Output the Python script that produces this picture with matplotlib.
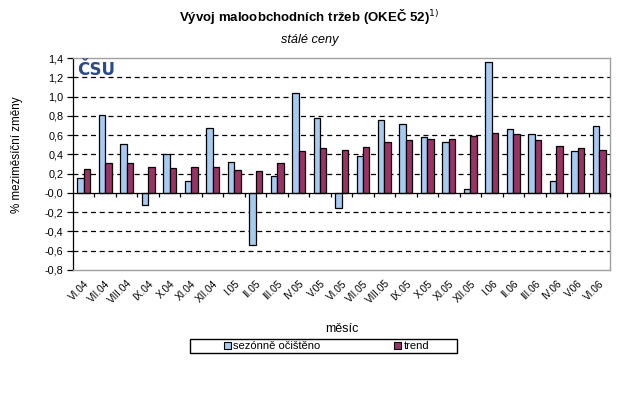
import numpy as np
import matplotlib
matplotlib.use('Agg')
import matplotlib.pyplot as plt
from matplotlib.patches import Rectangle, Patch
from matplotlib.ticker import FuncFormatter

plt.rcParams['font.family'] = ['Liberation Sans', 'DejaVu Sans']

months = ['VI.04', 'VII.04', 'VIII.04', 'IX.04', 'X.04', 'XI.04', 'XII.04',
          'I.05', 'II.05', 'III.05', 'IV.05', 'V.05', 'VI.05', 'VII.05',
          'VIII.05', 'IX.05', 'X.05', 'XI.05', 'XII.05',
          'I.06', 'II.06', 'III.06', 'IV.06', 'V.06', 'VI.06']
seasonal = [0.15, 0.81, 0.51, -0.13, 0.40, 0.12, 0.67,
            0.32, -0.54, 0.18, 1.04, 0.78, -0.16, 0.38,
            0.76, 0.72, 0.58, 0.53, 0.04,
            1.36, 0.66, 0.61, 0.12, 0.44, 0.69]
trend = [0.25, 0.31, 0.31, 0.27, 0.26, 0.27, 0.27,
         0.24, 0.23, 0.31, 0.44, 0.47, 0.45, 0.48,
         0.53, 0.55, 0.56, 0.56, 0.59,
         0.62, 0.61, 0.55, 0.49, 0.47, 0.45]

W, H = 619, 394
fig = plt.figure(figsize=(W / 100, H / 100), dpi=100)
ax = fig.add_axes([73 / W, 1 - 270 / H, (610 - 73) / W, (270 - 58) / H])

x = np.arange(len(months))
bw = 0.3
c_blue = '#A6CAF0'
c_trend = '#993366'
ax.bar(x - bw / 2, seasonal, bw, color=c_blue, edgecolor='black', linewidth=0.9, zorder=3)
ax.bar(x + bw / 2, trend, bw, color=c_trend, edgecolor='black', linewidth=0.9, zorder=3)

ax.set_xlim(-0.5, len(months) - 0.5)
ax.set_ylim(-0.8, 1.4)
yt = np.round(np.arange(-0.8, 1.41, 0.2), 1)
ax.set_yticks(yt)
ax.yaxis.set_major_formatter(FuncFormatter(lambda v, p: f'{v:.1f}'.replace('.', ',')))
for v in yt:
    if -0.8 < v < 1.4 and abs(v) > 1e-9:
        ax.axhline(v, color='black', lw=0.9, ls=(0, (4, 3)), zorder=1)
ax.axhline(0, color='black', lw=0.9, zorder=4)
# category tick marks on the zero line
ax.vlines(x[:-1] + 0.5, -0.045, 0, color='black', lw=0.9, zorder=4)
ax.vlines([len(months) - 0.5], -0.045, 0, color='black', lw=0.9, zorder=4, clip_on=False)

ax.set_xticks(x)
ax.set_xticklabels(months, rotation=45, ha='right', rotation_mode='anchor', fontsize=7.3)
ax.tick_params(axis='x', length=0, pad=6)
ax.tick_params(axis='y', labelsize=7.8, length=4, width=0.9, direction='out', pad=3)

for s in ['top', 'right', 'bottom']:
    ax.spines[s].set_color('#A0A0A0')
    ax.spines[s].set_linewidth(1)
ax.spines['left'].set_color('black')
ax.spines['left'].set_linewidth(0.9)

ax.set_xlabel('měsíc', fontsize=9, labelpad=12)

fig.text(17.5 / W, 1 - 155 / H, '% meziměsíční změny', rotation=90,
         ha='center', va='center', fontsize=8.4)
fig.text(0.5, 1 - 16 / H, 'Vývoj maloobchodních tržeb (OKEČ 52)$^{1)}$',
         ha='center', va='center', fontsize=9.5, fontweight='bold')
fig.text(0.5, 1 - 40 / H, 'stálé ceny', ha='center', va='center',
         fontsize=9.2, style='italic')

# CSU logo
ax.text(0.008, 0.985, 'ČSU', transform=ax.transAxes, ha='left', va='top',
        fontsize=12, fontweight='heavy', color='#2A4A8A', family='DejaVu Sans', zorder=5)

# legend
handles = [Patch(facecolor=c_blue, edgecolor='black', linewidth=0.8),
           Patch(facecolor=c_trend, edgecolor='black', linewidth=0.8)]
fig.legend(handles, ['sezónně očištěno', 'trend'], loc='center left',
           bbox_to_anchor=(224 / W, 1 - 346 / H), ncol=2, frameon=False,
           fontsize=8, handlelength=0.6, handleheight=0.6, handletextpad=0.25,
           columnspacing=6.6, borderpad=0, borderaxespad=0)
fig.patches.append(Rectangle((190 / W, 1 - 353 / H), (457 - 190) / W, 14 / H,
                             transform=fig.transFigure, fill=False,
                             edgecolor='black', linewidth=1))

fig.savefig('out.png', dpi=100)
